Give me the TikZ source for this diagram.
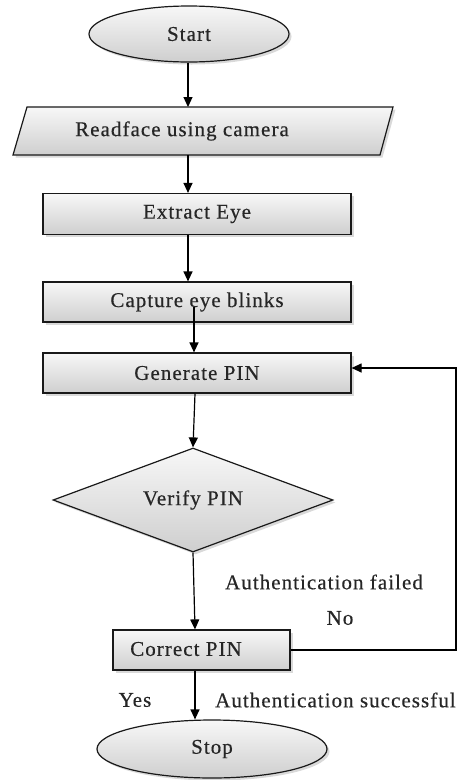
\documentclass[tikz,border=0pt]{standalone}
\usepackage{fontspec}
\setmainfont{Liberation Serif}
\newfontfamily\dfont{Liberation Serif}[LetterSpace=5,FakeBold=0.4]
\usetikzlibrary{shapes.geometric,arrows.meta,shadows,calc}
\begin{document}
\begin{tikzpicture}[x=1pt,y=-1pt,
  txt/.style={font=\dfont\fontsize{21}{25}\selectfont, text=black!85},
  blk/.style={draw=black!90, line width=1.2pt, top color=gray!6, bottom color=gray!38,
    drop shadow={shadow xshift=2.5pt, shadow yshift=-2.5pt, opacity=.3, fill=gray},
    inner sep=0pt, txt},
  boxn/.style={blk, rectangle, minimum width=308pt, minimum height=41pt},
  term/.style={blk, ellipse},
  arr/.style={draw=black, line width=1.2pt, -{Triangle[length=10pt,width=9pt]}},
  lbl/.style={txt, inner sep=0pt}]
\useasboundingbox (0,0) rectangle (458,780);

\node[term, minimum width=200pt, minimum height=56pt] (start) at (189,34) {Start};
\path[blk] (27,107) -- (393,107) -- (380,155) -- (13,155) -- cycle;
\node[lbl] (read) at (182,131) {Readface using camera};
\coordinate (readtop) at (188,107);
\coordinate (readbot) at (188,155);
\node[boxn] (extract) at (197,214) {Extract Eye};
\node[boxn, minimum height=40pt] (capture) at (197,302) {Capture eye blinks};
\node[boxn, minimum height=40pt] (gen) at (197,373) {Generate PIN};
\node[blk, diamond, minimum width=280pt, minimum height=104pt, aspect=2.7] (verify) at (193,500) {Verify PIN};
\node[blk, rectangle, minimum width=177pt, minimum height=40pt] (corrbox) at (201.5,650) {};
\node[lbl] (corr) at (186,649) {Correct PIN};
\node[term, minimum width=230pt, minimum height=58pt] (stop) at (212,749) {Stop};

\coordinate (fb) at (456,650);
\coordinate (c1) at (188,0);
\coordinate (c2) at (194,0);
\coordinate (c3) at (195,0);

\draw[arr] (start.south -| c1) -- (readtop);
\draw[arr] (readbot) -- (c1 |- extract.north);
\draw[arr] (c1 |- extract.south) -- (c1 |- capture.north);
\draw[arr] ([shift={(-3,5)}]capture.center) -- (c2 |- gen.north);
\draw[arr] (c3 |- gen.south) -- (verify.north);
\draw[arr] (verify.south) -- (c3 |- corrbox.north);
\draw[arr] (c3 |- corrbox.south) -- (c3 |- stop.north);
\draw[arr] (corrbox.east) -- (fb) |- ([shift={(0,-5)}]gen.east);

\node[lbl] (fail) at (324,582) {Authentication failed};
\node[lbl] (no) at (340,618) {No};
\node[lbl] (yes) at (135,700) {Yes};
\node[lbl, anchor=west] (succ) at (215,700) {Authentication successful};
\end{tikzpicture}
\end{document}
